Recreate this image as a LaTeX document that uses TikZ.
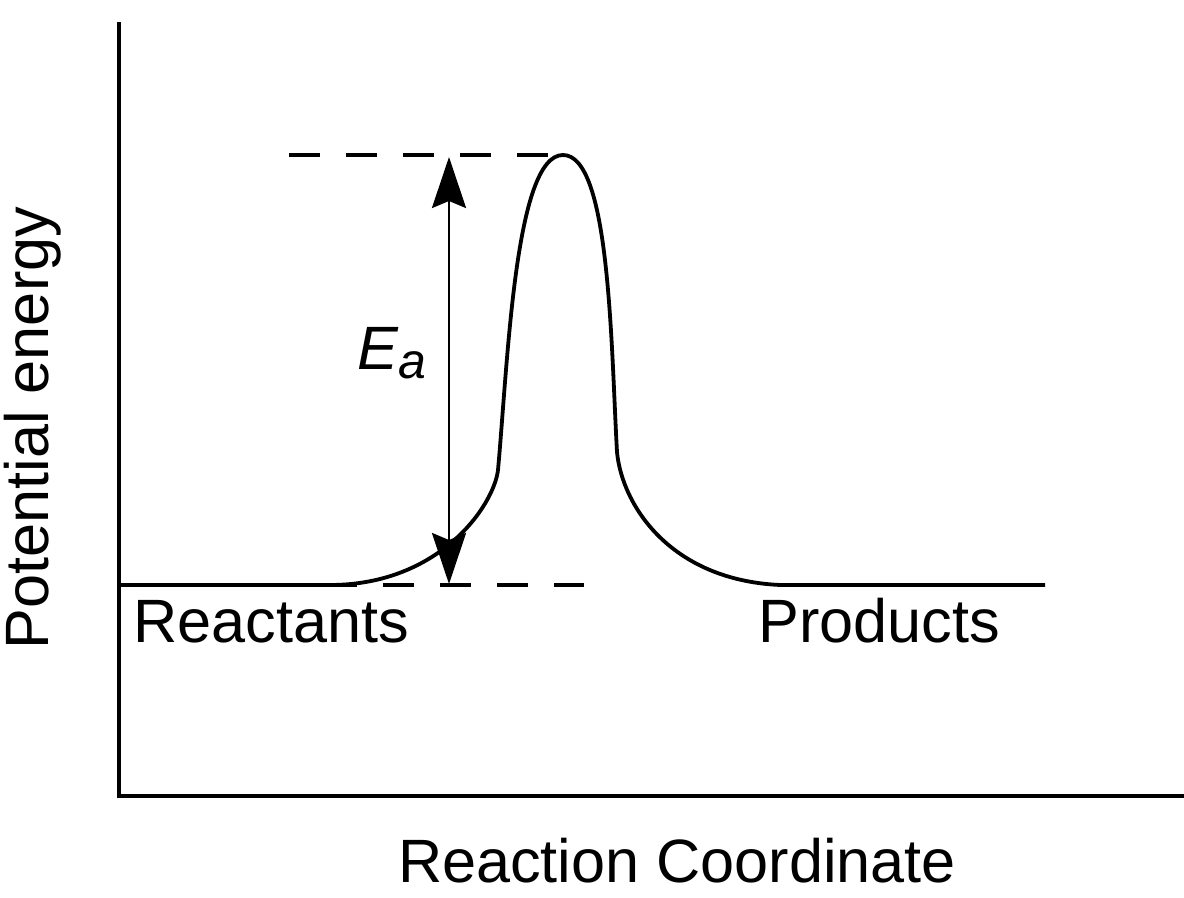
\documentclass[tikz,border=0pt]{standalone}
\usepackage{fontspec}
\setmainfont{Liberation Sans}
\usetikzlibrary{arrows.meta}
\begin{document}
\begin{tikzpicture}[x=0.5pt,y=-0.5pt,
  axisline/.style={line width=2pt, line join=miter},
  curveline/.style={line width=1.9pt},
  dashline/.style={line width=1.9pt, dash pattern=on 15.5pt off 13pt},
  ealine/.style={line width=1.4pt, {Stealth[length=25.5pt,width=17pt,inset=3.5pt]}-{Stealth[length=25.5pt,width=17pt,inset=3.5pt]}},
  lbl/.style={inner sep=0pt, font=\fontsize{30.6}{36}\selectfont}]
\useasboundingbox (0,0) rectangle (1184,898);
% axes
\coordinate (ytop) at (119,22);
\coordinate (origin) at (119,796);
\coordinate (xend) at (1184,796);
\draw[axisline] (ytop) -- (origin) -- (xend);
% energy curve
\coordinate (rstart) at (119,585);
\coordinate (rend) at (330,585);
\coordinate (lknee) at (498,470);
\coordinate (peak) at (563,155);
\coordinate (rknee) at (617,452);
\coordinate (pstart) at (780,585);
\coordinate (pend) at (1045,585);
\draw[curveline] (rstart) -- (rend)
  .. controls (440,585) and (494,505) .. (lknee)
  .. controls (508,360) and (515,155) .. (peak)
  .. controls (610,155) and (611,345) .. (rknee)
  .. controls (622,505) and (670,580) .. (pstart)
  -- (pend);
% dashed levels
\coordinate (dtl) at (289,155);
\coordinate (dtr) at (548,155);
\coordinate (dbl) at (326,585);
\coordinate (dbr) at (584,585);
\draw[dashline] (dtl) -- (dtr);
\draw[dashline] (dbl) -- (dbr);
% Ea arrow
\coordinate (atop) at (449,157);
\coordinate (abot) at (449,584);
\draw[ealine] (atop) -- (abot);
% labels
\node[lbl, anchor=base west] (ea) at (357,370) {\itshape E\raisebox{-4.5pt}{\fontsize{25}{30}\selectfont a}};
\node[lbl, anchor=base west] (react) at (133,642) {Reactants};
\node[lbl, anchor=base west] (prod) at (758,642) {Products};
\node[lbl, anchor=base] (xlab) at (677,882) {Reaction Coordinate};
\node[lbl, anchor=base, rotate=90] (ylab) at (48,428) {Potential energy};
\end{tikzpicture}
\end{document}
